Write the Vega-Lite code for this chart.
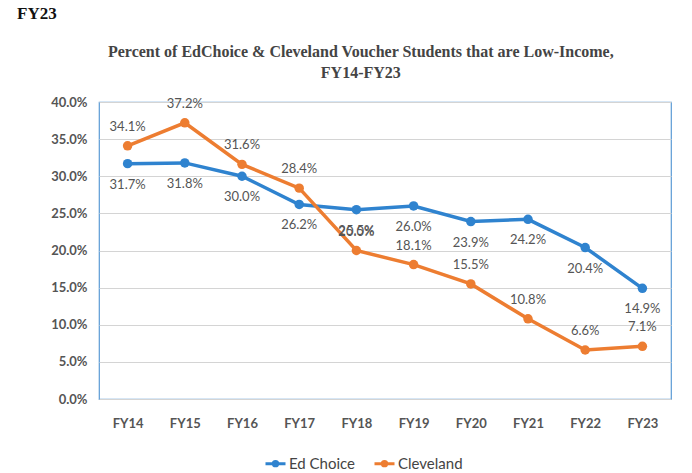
{
  "$schema": "https://vega.github.io/schema/vega-lite/v6.json",
  "background": "white",
  "padding": {"left": 17, "top": 5, "right": 15, "bottom": 5},
  "title": {"text": "FY23", "anchor": "start", "frame": "bounds", "dx": -33, "font": "Liberation Serif", "fontSize": 17, "fontWeight": "bold", "color": "#111", "offset": 20},
  "data": {"values": [
    {"year": "FY14", "series": "Ed Choice", "v": 0.317},
    {"year": "FY15", "series": "Ed Choice", "v": 0.318},
    {"year": "FY16", "series": "Ed Choice", "v": 0.300},
    {"year": "FY17", "series": "Ed Choice", "v": 0.262},
    {"year": "FY18", "series": "Ed Choice", "v": 0.255},
    {"year": "FY19", "series": "Ed Choice", "v": 0.260},
    {"year": "FY20", "series": "Ed Choice", "v": 0.239},
    {"year": "FY21", "series": "Ed Choice", "v": 0.242},
    {"year": "FY22", "series": "Ed Choice", "v": 0.204},
    {"year": "FY23", "series": "Ed Choice", "v": 0.149},
    {"year": "FY14", "series": "Cleveland", "v": 0.341},
    {"year": "FY15", "series": "Cleveland", "v": 0.372},
    {"year": "FY16", "series": "Cleveland", "v": 0.316},
    {"year": "FY17", "series": "Cleveland", "v": 0.284},
    {"year": "FY18", "series": "Cleveland", "v": 0.200},
    {"year": "FY19", "series": "Cleveland", "v": 0.181},
    {"year": "FY20", "series": "Cleveland", "v": 0.155},
    {"year": "FY21", "series": "Cleveland", "v": 0.108},
    {"year": "FY22", "series": "Cleveland", "v": 0.066},
    {"year": "FY23", "series": "Cleveland", "v": 0.071}
  ]},
  "vconcat": [
    {
      "width": 572,
      "height": 297,
      "view": {"stroke": "#5B9BD5", "strokeWidth": 1.2},
      "title": {"text": ["Percent of EdChoice & Cleveland Voucher Students that are Low-Income,", "FY14-FY23"], "anchor": "middle", "frame": "bounds", "font": "Liberation Serif", "fontSize": 16, "fontWeight": "bold", "color": "#444", "lineHeight": 21, "offset": 15},
      "encoding": {
        "x": {"field": "year", "type": "ordinal", "sort": null, "title": null,
          "axis": {"labelAngle": 0, "domain": false, "ticks": false, "labelPadding": 18, "labelFont": "Lato", "labelFontSize": 13, "labelFontWeight": "bold", "labelColor": "#555", "grid": false}},
        "y": {"field": "v", "type": "quantitative", "title": null,
          "scale": {"domain": [0, 0.4]},
          "axis": {"format": ".1%", "values": [0, 0.05, 0.1, 0.15, 0.2, 0.25, 0.3, 0.35, 0.4], "domain": false, "ticks": false, "labelPadding": 12, "labelFont": "Lato", "labelFontSize": 13, "labelFontWeight": "bold", "labelColor": "#555", "gridColor": "#d4d4d4", "gridWidth": 1}},
        "color": {"field": "series", "type": "nominal", "sort": ["Ed Choice", "Cleveland"],
          "scale": {"domain": ["Ed Choice", "Cleveland"], "range": ["#2F83CF", "#ED7D31"]},
          "legend": {"title": null, "orient": "none", "legendX": 165, "legendY": 350, "direction": "horizontal", "labelFont": "Lato", "labelFontSize": 15, "labelColor": "#444", "symbolType": "M-1,0L1,0M0.22,0A0.22,0.22,0,1,1,-0.22,0A0.22,0.22,0,1,1,0.22,0Z", "symbolStrokeWidth": 3, "symbolSize": 400, "columnPadding": 12, "labelOffset": 2}}
      },
      "layer": [
        {"mark": {"type": "line", "strokeWidth": 3.5, "point": {"filled": true, "size": 90}}},
        {"transform": [{"filter": "datum.series === 'Ed Choice'"}],
          "mark": {"type": "text", "dy": 21, "font": "Lato", "fontSize": 13, "color": "#555"},
          "encoding": {"text": {"field": "v", "type": "quantitative", "format": ".1%"}, "color": {"value": "#555"}}},
        {"transform": [{"filter": "datum.series === 'Cleveland'"}],
          "mark": {"type": "text", "dy": -19, "font": "Lato", "fontSize": 13, "color": "#555"},
          "encoding": {"text": {"field": "v", "type": "quantitative", "format": ".1%"}, "color": {"value": "#555"}}}
      ]
    }
  ]
}
